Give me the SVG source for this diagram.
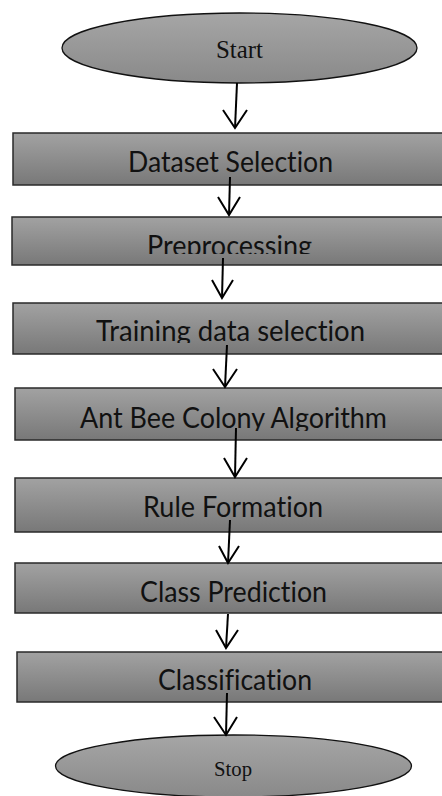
<svg xmlns="http://www.w3.org/2000/svg" width="442" height="796" viewBox="0 0 442 796">
<style>
.box{fill:url(#gb);stroke:#2a2a2a;stroke-width:1.5}
.ell{fill:url(#ge);stroke:#111;stroke-width:1.3}
.lbl{font-family:Lato,"Liberation Sans",sans-serif;font-size:28px;fill:#111;font-variant-ligatures:none}
.ser{font-family:"Liberation Serif","Times New Roman",serif;fill:#111}
.con{stroke:#000;stroke-width:2;fill:none}
.head{stroke:#000;stroke-width:2;fill:none}
</style>
<defs>
<linearGradient id="gb" x1="0" y1="0" x2="0" y2="1">
<stop offset="0" stop-color="#a2a2a2"/>
<stop offset="1" stop-color="#787878"/>
</linearGradient>
<linearGradient id="ge" x1="0" y1="0" x2="0" y2="1">
<stop offset="0" stop-color="#a6a6a6"/>
<stop offset="1" stop-color="#898989"/>
</linearGradient>
<clipPath id="c2"><rect x="0" y="200" width="442" height="54"/></clipPath>
<clipPath id="c3"><rect x="0" y="290" width="442" height="53"/></clipPath>
<clipPath id="c4"><rect x="0" y="380" width="442" height="51"/></clipPath>
</defs>
<g id="start">
<ellipse class="ell" cx="239.5" cy="48" rx="177.5" ry="35"/>
<text class="ser" x="216" y="58" font-size="25" textLength="47" lengthAdjust="spacingAndGlyphs">Start</text>
</g>
<g id="dataset">
<rect class="box" x="13" y="133" width="440" height="52"/>
<text class="lbl" x="128" y="172" textLength="205" lengthAdjust="spacingAndGlyphs">Dataset Selection</text>
</g>
<g id="preprocessing">
<rect class="box" x="12" y="217" width="440" height="48"/>
<text class="lbl" x="147" y="256" textLength="165" lengthAdjust="spacingAndGlyphs" clip-path="url(#c2)">Preprocessing</text>
</g>
<g id="training">
<rect class="box" x="13" y="303" width="440" height="51"/>
<text class="lbl" x="96" y="341" textLength="269" lengthAdjust="spacingAndGlyphs" clip-path="url(#c3)">Training data selection</text>
</g>
<g id="abc">
<rect class="box" x="15" y="388" width="440" height="52"/>
<text class="lbl" x="80" y="428" textLength="307" lengthAdjust="spacingAndGlyphs" clip-path="url(#c4)">Ant Bee Colony Algorithm</text>
</g>
<g id="rule">
<rect class="box" x="15" y="478" width="440" height="54"/>
<text class="lbl" x="143" y="517" textLength="180" lengthAdjust="spacingAndGlyphs">Rule Formation</text>
</g>
<g id="prediction">
<rect class="box" x="15" y="563" width="440" height="50"/>
<text class="lbl" x="140" y="602" textLength="187" lengthAdjust="spacingAndGlyphs">Class Prediction</text>
</g>
<g id="classification">
<rect class="box" x="17" y="652" width="440" height="50"/>
<text class="lbl" x="158" y="690" textLength="154" lengthAdjust="spacingAndGlyphs">Classification</text>
</g>
<g id="stop">
<ellipse class="ell" cx="233.5" cy="766" rx="178" ry="31"/>
<text class="ser" x="214" y="776" font-size="22" textLength="38" lengthAdjust="spacingAndGlyphs">Stop</text>
</g>
<g id="connectors">
<line class="con" x1="237" y1="83" x2="235" y2="128"/>
<polyline class="head" points="223,110 235,128 247,110"/>
<line class="con" x1="230" y1="177" x2="229" y2="215"/>
<polyline class="head" points="218,197 229,215 240,197"/>
<line class="con" x1="223" y1="258" x2="222" y2="298"/>
<polyline class="head" points="212,280 222,298 233,280"/>
<line class="con" x1="227" y1="345" x2="225" y2="387"/>
<polyline class="head" points="213,369 225,387 237,369"/>
<line class="con" x1="236" y1="428" x2="235" y2="477"/>
<polyline class="head" points="224,458 235,477 247,458"/>
<line class="con" x1="230" y1="520" x2="228" y2="563"/>
<polyline class="head" points="219,546 228,563 239,546"/>
<line class="con" x1="228" y1="614" x2="226" y2="648"/>
<polyline class="head" points="216,630 226,648 238,630"/>
<line class="con" x1="227" y1="693" x2="226" y2="735"/>
<polyline class="head" points="214,717 226,735 237,717"/>
</g>
</svg>
